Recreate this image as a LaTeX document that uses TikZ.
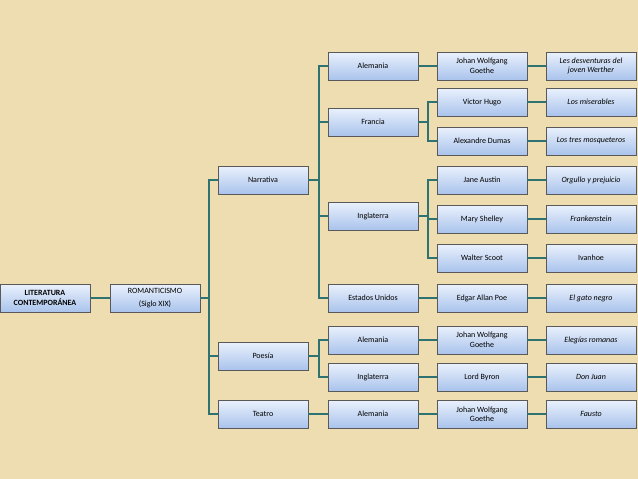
\documentclass[tikz,border=0pt]{standalone}
\usepackage{fontspec}
\setmainfont{Carlito}
\definecolor{bg}{HTML}{EFDDB2}
\definecolor{btop}{HTML}{EAF1FC}
\definecolor{bbot}{HTML}{A9C3EC}
\definecolor{lnc}{HTML}{2F7272}
\begin{document}
\begin{tikzpicture}[x=1pt,y=-1pt,
 bx/.style={draw=gray!70!black,line width=0.5pt,top color=btop,bottom color=bbot,minimum width=90pt,minimum height=28pt,inner sep=1pt,align=center,font=\fontsize{8}{9.5}\selectfont},
 it/.style={bx,font=\fontsize{8}{9.5}\selectfont\itshape},
 ln/.style={draw=lnc,line width=1.3pt}]
\fill[bg] (0,0) rectangle (638,479);
\useasboundingbox (0,0) rectangle (638,479);
\node[bx,font=\fontsize{8}{9.5}\selectfont\bfseries] (lit) at (45,298) {LITERATURA\\CONTEMPORÁNEA};
\node[bx] (rom) at (155,298) {ROMANTICISMO\\[3pt](Siglo XIX)};
\node[bx] (nar) at (263,180) {Narrativa};
\node[bx] (poe) at (263,356) {Poesía};
\node[bx] (tea) at (263,414) {Teatro};
\node[bx] (a1) at (373,66) {Alemania};
\node[bx] (fr) at (373,122) {Francia};
\node[bx] (in1) at (373,216) {Inglaterra};
\node[bx] (eu) at (373,298) {Estados Unidos};
\node[bx] (a2) at (373,340) {Alemania};
\node[bx] (in2) at (373,377) {Inglaterra};
\node[bx] (a3) at (373,414) {Alemania};
\node[bx] (g1) at (482,66) {Johan Wolfgang\\Goethe};
\node[bx] (vh) at (482,102) {Victor Hugo};
\node[bx] (ad) at (482,141) {Alexandre Dumas};
\node[bx] (ja) at (482,180) {Jane Austin};
\node[bx] (ms) at (482,219) {Mary Shelley};
\node[bx] (ws) at (482,258) {Walter Scoot};
\node[bx] (ep) at (482,298) {Edgar Allan Poe};
\node[bx] (g2) at (482,340) {Johan Wolfgang\\Goethe};
\node[bx] (lb) at (482,377) {Lord Byron};
\node[bx] (g3) at (482,414) {Johan Wolfgang\\Goethe};
\node[it] (b1) at (591,66) {Les desventuras del\\joven Werther};
\node[it] (b2) at (591,102) {Los miserables};
\node[it] (b3) at (591,141) {Los tres mosqueteros};
\node[it] (b4) at (591,180) {Orgullo y prejuicio};
\node[it] (b5) at (591,219) {Frankenstein};
\node[bx] (b6) at (591,258) {Ivanhoe};
\node[it] (b7) at (591,298) {El gato negro};
\node[it] (b8) at (591,340) {Elegías romanas};
\node[it] (b9) at (591,377) {Don Juan};
\node[it] (b10) at (591,414) {Fausto};
\path[ln] (lit) -- (rom);
\foreach \p/\c/\l in {rom/nar/209,rom/poe/209,rom/tea/209,nar/a1/319,nar/fr/319,nar/in1/319,nar/eu/319,poe/a2/319,poe/in2/319,fr/vh/428,fr/ad/428,in1/ja/428,in1/ms/428,in1/ws/428}
  \path[ln] (\p.east) -| (\l,0 |- \c.west) -- (\c.west);
\foreach \p/\c in {tea/a3,a1/g1,eu/ep,a2/g2,in2/lb,a3/g3,g1/b1,vh/b2,ad/b3,ja/b4,ms/b5,ws/b6,ep/b7,g2/b8,lb/b9,g3/b10}
  \path[ln] (\p) -- (\c);
\end{tikzpicture}
\end{document}
